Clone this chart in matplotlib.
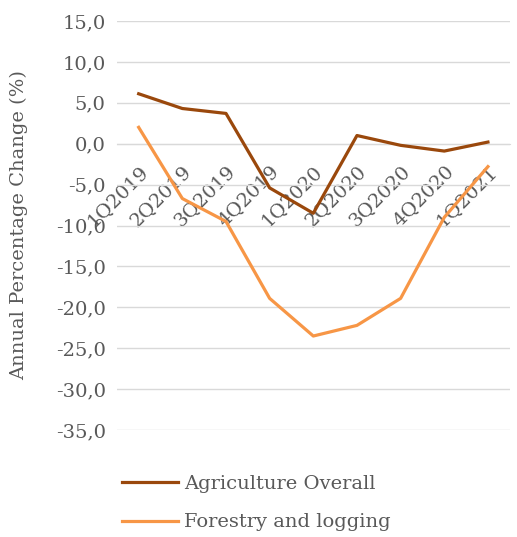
import matplotlib
matplotlib.use("Agg")
import matplotlib.pyplot as plt
from matplotlib.ticker import FuncFormatter, MultipleLocator

quarters = ["1Q2019", "2Q2019", "3Q2019", "4Q2019", "1Q2020",
            "2Q2020", "3Q2020", "4Q2020", "1Q2021"]
agriculture = [6.1, 4.3, 3.7, -5.4, -8.5, 1.0, -0.2, -0.9, 0.2]
forestry = [2.0, -6.7, -9.5, -18.9, -23.5, -22.2, -18.9, -9.0, -2.8]

grey = "#595959"
plt.rcParams['font.family'] = ['DejaVu Serif']

fig = plt.figure(figsize=(5.17, 5.37), dpi=100)
ax = fig.add_axes([0.226, 0.199, 0.76, 0.762])

x = list(range(len(quarters)))
ax.plot(x, agriculture, color="#9A480C", lw=2.3, label="Agriculture Overall",
        solid_joinstyle="round", zorder=3)
ax.plot(x, forestry, color="#F79646", lw=2.3, label="Forestry and logging",
        solid_joinstyle="round", zorder=3)

ax.set_ylim(-35, 15)
ax.set_xlim(-0.5, len(quarters) - 0.5)
ax.yaxis.set_major_locator(MultipleLocator(5))
ax.yaxis.set_major_formatter(FuncFormatter(lambda v, p: f"{v:.1f}".replace(".", ",")))
ax.grid(axis="y", color="#D9D9D9", lw=1)
ax.set_axisbelow(True)

for s in ["top", "right", "left"]:
    ax.spines[s].set_visible(False)
ax.spines["bottom"].set_position(("data", 0))
ax.spines["bottom"].set_color("#D9D9D9")

ax.set_xticks(x)
ax.set_xticklabels(quarters, rotation=45, ha="right", va="top",
                   rotation_mode="anchor", fontsize=14, color=grey)
ax.tick_params(axis="x", length=0, pad=13)
ax.tick_params(axis="y", length=0, pad=8, labelsize=14, labelcolor=grey)

ax.set_ylabel("Annual Percentage Change (%)", fontsize=14, color=grey, labelpad=20)

fig.legend(loc="upper left", bbox_to_anchor=(0.22, 0.13), frameon=False,
           fontsize=14, labelcolor=grey, handlelength=2.9, handletextpad=0.3,
           labelspacing=1.05, borderaxespad=0)

fig.savefig("out.png", dpi=100)
